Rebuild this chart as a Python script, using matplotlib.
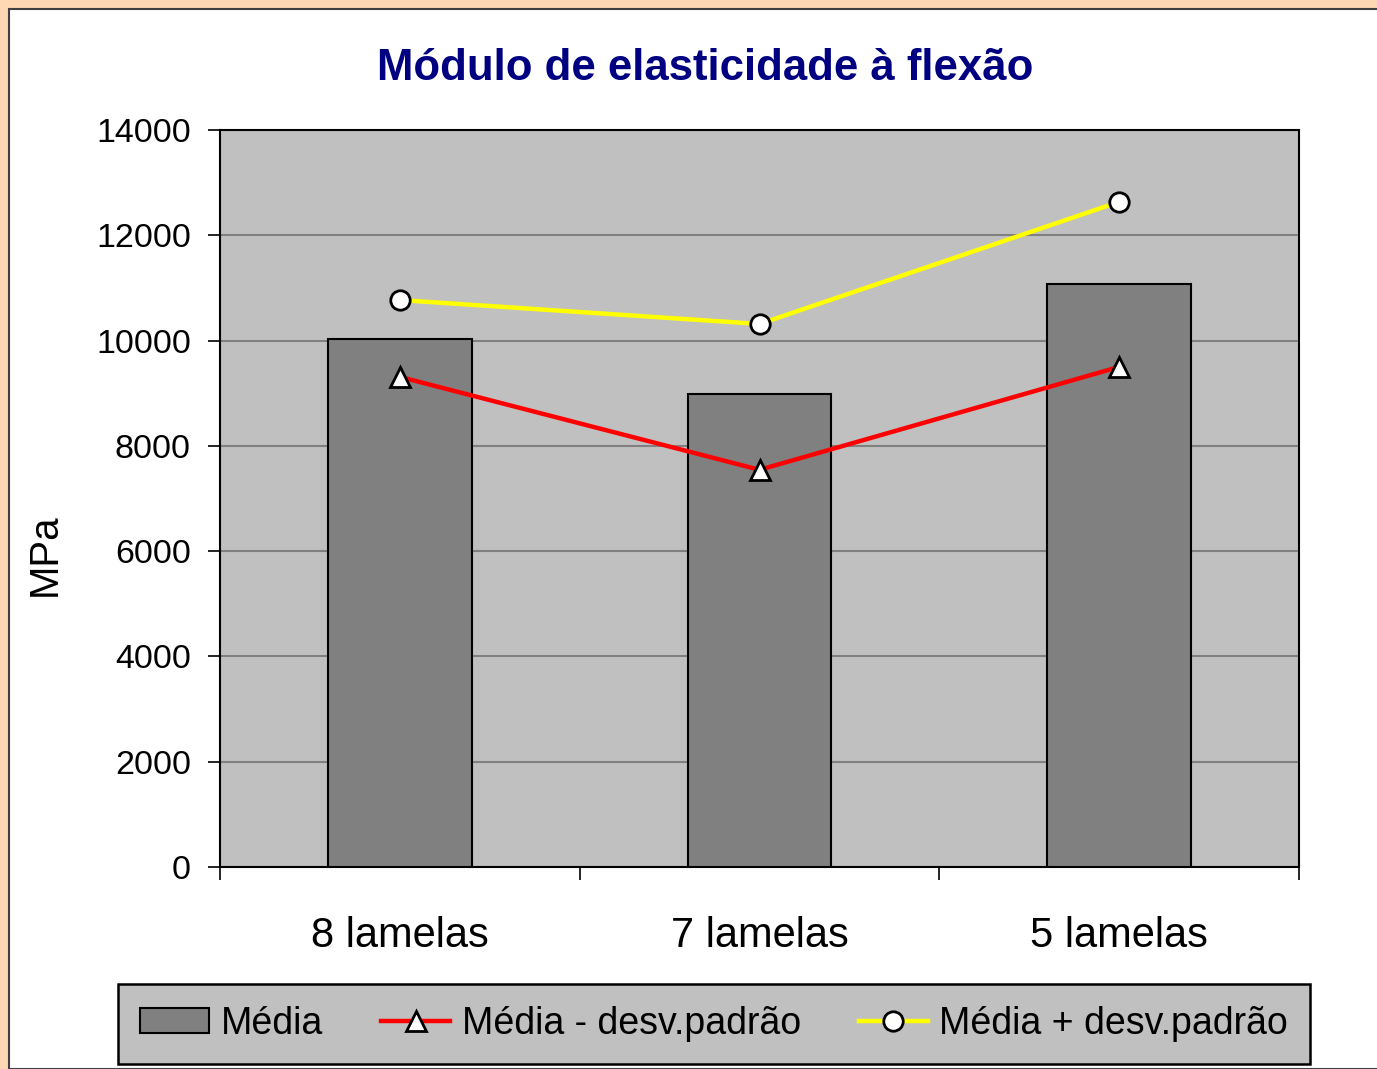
import matplotlib
matplotlib.use("Agg")
import matplotlib.pyplot as plt
import numpy as np
from matplotlib.patches import Rectangle

plt.rcParams['font.family'] = ['Liberation Sans', 'DejaVu Sans']

# Data
categories = ["8 lamelas", "7 lamelas", "5 lamelas"]
media = [10030, 8985, 11080]
media_menos_dp = [9310, 7545, 9500]
media_mais_dp = [10770, 10315, 12635]
y_ticks = [0, 2000, 4000, 6000, 8000, 10000, 12000, 14000]

fig = plt.figure(figsize=(13.77, 10.69), dpi=100)
fig.patch.set_facecolor("#FDD8B2")

# white chart area with a thin dark frame (behind the axes)
fig.patches.append(Rectangle((9 / 1377, 0), 1.0, 1 - 9 / 1069, transform=fig.transFigure,
                             facecolor="white", edgecolor="#404040", linewidth=1.5, zorder=-10))

ax = fig.add_axes([220 / 1377, 1 - 867 / 1069, 1079 / 1377, 737 / 1069])
ax.set_facecolor("#C0C0C0")

x = np.arange(len(categories))
h_bar = ax.bar(x, media, width=0.4, color="#808080", edgecolor="black", linewidth=1.5,
               zorder=3, label="Média")
h_low, = ax.plot(x, media_menos_dp, color="#FF0000", linewidth=3.2, marker="^", markersize=14,
                 markerfacecolor="white", markeredgecolor="black", markeredgewidth=2,
                 zorder=4, label="Média - desv.padrão")
h_high, = ax.plot(x, media_mais_dp, color="#FFFF00", linewidth=3.2, marker="o", markersize=14,
                  markerfacecolor="white", markeredgecolor="black", markeredgewidth=2,
                  zorder=4, label="Média + desv.padrão")

ax.set_xlim(-0.5, len(categories) - 0.5)
ax.set_ylim(0, 14000)
ax.set_yticks(y_ticks)
ax.set_yticklabels([str(v) for v in y_ticks], fontsize=24.5)
ax.yaxis.grid(True, color="#808080", linewidth=1.5, zorder=1)
ax.set_axisbelow(True)

ax.set_xticks(x)
ax.set_xticklabels(categories, fontsize=30)
ax.set_xticks(np.arange(len(categories) + 1) - 0.5, minor=True)
ax.tick_params(axis="x", which="major", length=0, pad=35)
ax.tick_params(axis="x", which="minor", length=9, width=1.2, direction="out")
ax.tick_params(axis="y", length=9, width=1.2, direction="out", pad=12)

for s in ax.spines.values():
    s.set_linewidth(1.5)
    s.set_color("black")

fig.text(705 / 1377, 1 - 68 / 1069, "Módulo de elasticidade à flexão", ha="center", va="center",
         fontsize=31.5, fontweight="bold", color="#000080")
fig.text(45 / 1377, 1 - 555 / 1069, "MPa", rotation=90, ha="center", va="center", fontsize=29)

leg = fig.legend([h_bar, h_low, h_high], ["Média", "Média - desv.padrão", "Média + desv.padrão"],
                 loc="center", bbox_to_anchor=(714 / 1377, 1 - 1024 / 1069), ncol=3,
                 fontsize=27, frameon=True, fancybox=False, handlelength=1.85,
                 handleheight=0.65, handletextpad=0.3, columnspacing=1.55,
                 borderpad=0.58, borderaxespad=0)
leg.get_frame().set_facecolor("#C0C0C0")
leg.get_frame().set_edgecolor("black")
leg.get_frame().set_linewidth(1.8)
leg.get_frame().set_alpha(1)

fig.savefig("out.png", dpi=100, facecolor=fig.get_facecolor())
